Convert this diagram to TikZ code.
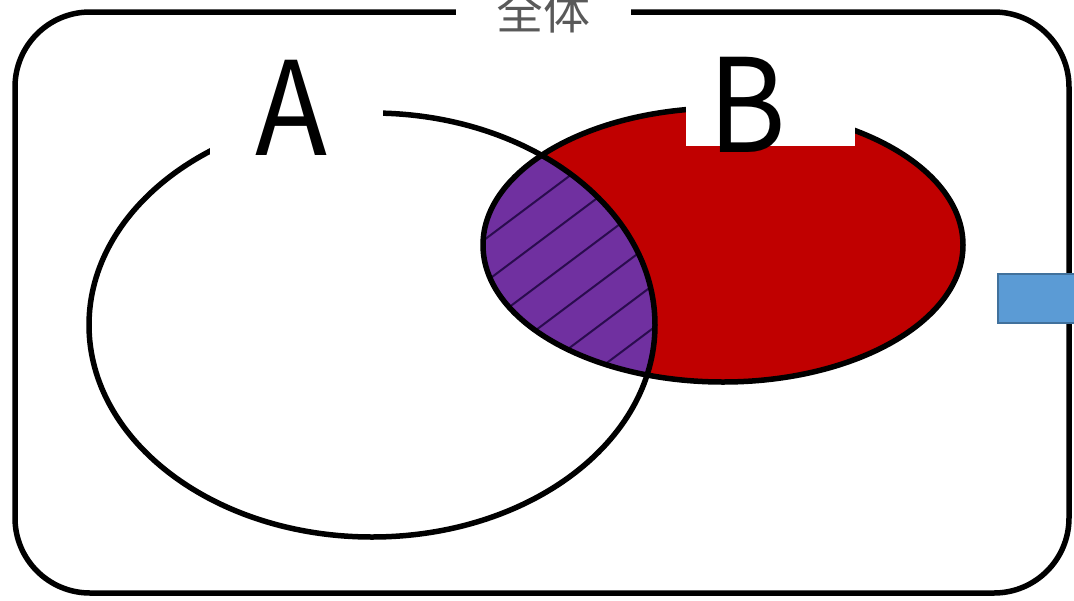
\documentclass[tikz,border=0pt]{standalone}
\usepackage{fontspec}
\newfontfamily\jp{Noto Sans CJK JP}
\definecolor{setred}{HTML}{C00000}
\definecolor{setpurple}{HTML}{7030A0}
\definecolor{hatchcol}{HTML}{2A0C4E}
\definecolor{boxblue}{HTML}{5B9BD5}
\definecolor{boxblueedge}{HTML}{41719C}
\definecolor{labelgray}{HTML}{595959}
\tikzset{
  outline/.style={draw=black, line width=5.5pt},
  hatchline/.style={draw=hatchcol, line width=2pt},
  setlabel/.style={inner sep=0pt, anchor=base, xscale=0.91, font=\jp\fontsize{130}{130}\selectfont},
  masklabel/.style={fill=white, draw=none},
}
\begin{document}
\begin{tikzpicture}[x=1pt,y=-1pt]
\useasboundingbox (0,0) rectangle (1074,600);
\fill[white] (0,0) rectangle (1074,600);
% outer frame
\draw[outline, rounded corners=75pt] (15,12) rectangle (1069,593);
\node[fill=white, minimum width=175pt, minimum height=30pt, inner sep=0pt, text=labelgray,
      font=\jp\fontsize{47}{47}\selectfont] (whole) at (543,12) {全体};
% set B fill
\fill[setred] (723,245) ellipse [x radius=240pt, y radius=137pt];
% intersection
\begin{scope}
  \clip (372,325) ellipse [x radius=283pt, y radius=212pt];
  \fill[setpurple] (723,245) ellipse [x radius=240pt, y radius=137pt];
  \clip (723,245) ellipse [x radius=240pt, y radius=137pt];
  \foreach \b in {603,646,689,732,775,818} {
    \draw[hatchline] (400,\b-300) -- (720,\b-540);
  }
\end{scope}
% outlines
\draw[outline] (372,325) ellipse [x radius=283pt, y radius=212pt];
\draw[outline] (723,245) ellipse [x radius=240pt, y radius=137pt];
% label masks
\fill[masklabel] (210,40) rectangle (383,168);
\fill[masklabel] (686,60) rectangle (855,146);
\node[setlabel] (labA) at (291,155) {A};
\node[setlabel] (labB) at (747,152) {B};
% blue box
\draw[fill=boxblue, draw=boxblueedge, line width=2pt] (998,274) rectangle (1080,323);
\coordinate (blueanchor) at (998,298);
\end{tikzpicture}
\end{document}
